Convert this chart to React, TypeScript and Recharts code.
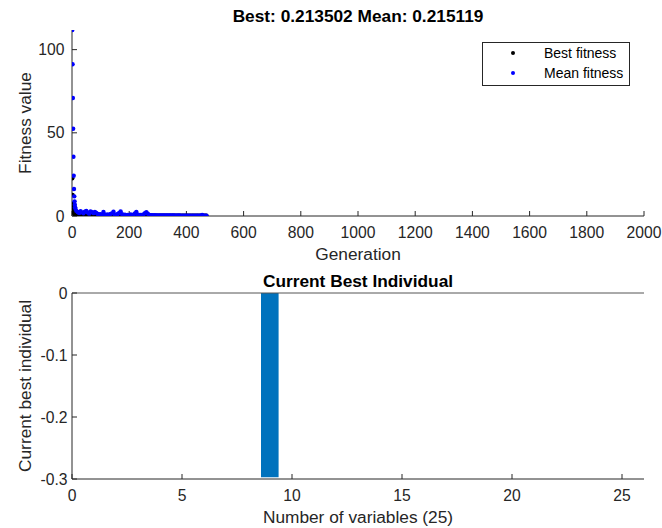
import { ScatterChart, Scatter, XAxis, YAxis, ComposedChart, Bar, ReferenceLine } from 'recharts';

const INK = '#262626';
const FONT = '"Liberation Sans", Arial, Helvetica, sans-serif';

// GA progress: generation numbers (sampled), best and mean fitness per generation
const generation = [
  1, 2, 3, 4, 5, 6, 7, 8, 9, 10, 11, 12,
  15, 20, 25, 30, 35, 40, 45, 50, 55, 60, 65, 70, 75, 80, 85, 90, 95, 100,
  105, 110, 115, 120, 125, 130, 135, 140, 145, 150, 155, 160, 165, 170, 175, 180, 185,
  190, 195, 200, 205, 210, 215, 220, 225, 230, 235, 240, 245, 250, 255, 260, 265, 270,
  275, 280, 285, 290, 295, 300, 305, 310, 315, 320, 325, 330, 335, 340, 345, 350, 355,
  360, 365, 370, 375, 380, 385, 390, 395, 400, 405, 410, 415, 420, 425, 430, 435, 440,
  445, 450, 455, 460, 465, 470,
];

const bestFitness = [
  22.7, 12.6, 7.4, 5.1, 3.7, 2.8, 2.1, 1.7, 1.4, 1.2, 1.1, 1.0,
  0.95, 0.9, 0.86, 0.82, 0.78, 0.74, 0.71, 0.68, 0.65, 0.62, 0.6, 0.58, 0.56, 0.54, 0.52, 0.5, 0.49, 0.48,
  0.47, 0.46, 0.45, 0.44, 0.43, 0.42, 0.41, 0.4, 0.39, 0.38, 0.37, 0.36, 0.35, 0.345, 0.34, 0.335, 0.33,
  0.325, 0.32, 0.315, 0.31, 0.305, 0.3, 0.295, 0.29, 0.285, 0.28, 0.275, 0.27, 0.265, 0.26, 0.255, 0.25, 0.248,
  0.246, 0.244, 0.243, 0.241, 0.24, 0.238, 0.236, 0.235, 0.233, 0.232, 0.231, 0.23, 0.229, 0.228, 0.227, 0.226, 0.225,
  0.224, 0.223, 0.222, 0.222, 0.221, 0.22, 0.22, 0.219, 0.219, 0.218, 0.218, 0.217, 0.217, 0.216, 0.216, 0.215, 0.215,
  0.215, 0.214, 0.214, 0.214, 0.2137, 0.2135,
];

const meanFitness = [
  111.8, 91.2, 70.9, 52.4, 35.6, 24.2, 16.2, 11.8, 8.8, 6.8, 5.2, 4.3,
  3.1, 2.4, 1.8, 2.9, 2.2, 1.6, 2.6, 3.0, 2.1, 1.4, 2.8, 2.3, 1.7, 2.5, 1.9, 1.2, 0.9, 1.1,
  0.8, 2.4, 0.9, 0.6, 1.0, 0.7, 1.3, 1.6, 2.6, 0.9, 0.7, 1.2, 1.9, 2.7, 1.1, 0.6, 0.8,
  0.5, 0.7, 0.6, 0.9, 0.6, 0.8, 1.5, 2.5, 0.9, 0.5, 0.6, 0.7, 1.0, 1.7, 2.3, 1.4, 0.6,
  0.45, 0.41, 0.38, 0.42, 0.36, 0.33, 0.35, 0.31, 0.34, 0.3, 0.29, 0.32, 0.28, 0.3, 0.27, 0.29, 0.26,
  0.28, 0.25, 0.27, 0.26, 0.24, 0.25, 0.24, 0.23, 0.24, 0.23, 0.22, 0.23, 0.22, 0.22, 0.23, 0.22, 0.22,
  0.22, 0.22, 0.6, 0.22, 0.216, 0.215,
];

const generationTicks = [0, 200, 400, 600, 800, 1000, 1200, 1400, 1600, 1800, 2000];
const fitnessTicks = [0, 50, 100];

// current best individual, 25 variables
const variableIndex = [1, 2, 3, 4, 5, 6, 7, 8, 9, 10, 11, 12, 13, 14, 15, 16, 17, 18, 19, 20, 21, 22, 23, 24, 25];
const bestIndividual = [0, 0, 0, 0, 0, 0, 0, 0, -0.297, 0, 0, 0, 0, 0, 0, 0, 0, 0, 0, 0, 0, 0, 0, 0, 0];
const variableTicks = [0, 5, 10, 15, 20, 25];
const individualTicks = [-0.3, -0.2, -0.1, 0];

const tickStyle = { fill: INK, fontSize: 15.7, fontFamily: FONT };

const dot = (color: string) => (props: any) => <circle cx={props.cx} cy={props.cy} r={2.2} fill={color} />;

export default function App() {
  const bestData = generation.map((g, i) => ({ generation: g, fitness: bestFitness[i] }));
  const meanData = generation.map((g, i) => ({ generation: g, fitness: meanFitness[i] }));
  const individualData = variableIndex.map((v, i) => ({ variable: v, value: bestIndividual[i] }));

  return (
    <div style={{ position: 'absolute', left: 0, top: 0, width: 662, height: 528, background: '#fff', fontFamily: FONT }}>
      <div style={{ position: 'absolute', left: 0, top: 0 }}>
        <ScatterChart width={662} height={262} margin={{ top: 30, right: 18, bottom: 0, left: 0 }}>
          <XAxis
            dataKey="generation" type="number" domain={[0, 2000]} ticks={generationTicks}
            height={46} stroke={INK} tickSize={-5} tickMargin={15.5} tick={tickStyle} allowDataOverflow
          />
          <YAxis
            dataKey="fitness" type="number" domain={[0, 111.8]} ticks={fitnessTicks}
            width={72} stroke={INK} tickSize={-5} tickMargin={12.5} tick={tickStyle} allowDataOverflow
          />
          <Scatter name="Best fitness" data={bestData} shape={dot('#000000')} isAnimationActive={false} />
          <Scatter name="Mean fitness" data={meanData} shape={dot('#0000ff')} isAnimationActive={false} />
        </ScatterChart>
      </div>

      <div style={{ position: 'absolute', left: 0, top: 260 }}>
        <ComposedChart width={662} height={268} data={individualData} margin={{ top: 33, right: 18, bottom: 0, left: 0 }}>
          <XAxis
            dataKey="variable" type="number" domain={[0, 26]} ticks={variableTicks}
            height={49} stroke={INK} tickSize={-5} tickMargin={15.5} tick={tickStyle} allowDataOverflow
          />
          <YAxis
            type="number" domain={[-0.3, 0]} ticks={individualTicks}
            width={72} stroke={INK} tickSize={-5} tickMargin={9.5} tick={tickStyle} allowDataOverflow
          />
          <Bar dataKey="value" fill="#0072bd" barSize={17.6} isAnimationActive={false} />
          <ReferenceLine y={0} stroke="#555555" strokeWidth={1} />
        </ComposedChart>
      </div>

      <svg width={662} height={528} style={{ position: 'absolute', left: 0, top: 0, pointerEvents: 'none' }}>
        <g fontFamily={FONT} fill={INK}>
          <text x={358} y={22} textAnchor="middle" fontSize={17.3} fontWeight="bold" fill="#000">
            Best: 0.213502 Mean: 0.215119
          </text>
          <text x={358} y={260} textAnchor="middle" fontSize={17.3}>Generation</text>
          <text transform="translate(31,123) rotate(-90)" textAnchor="middle" fontSize={17.3}>Fitness value</text>

          <text x={358} y={287} textAnchor="middle" fontSize={17.3} fontWeight="bold" fill="#000">
            Current Best Individual
          </text>
          <text x={358} y={522.5} textAnchor="middle" fontSize={17.3}>Number of variables (25)</text>
          <text transform="translate(31,386) rotate(-90)" textAnchor="middle" fontSize={17.3}>Current best individual</text>

          <rect x={482.5} y={42.5} width={147} height={43} fill="#fff" stroke={INK} strokeWidth={1} />
          <circle cx={513} cy={53} r={2} fill="#000000" />
          <circle cx={513} cy={73} r={2} fill="#0000ff" />
          <text x={544} y={58} fontSize={14} fill="#000">Best fitness</text>
          <text x={544} y={78} fontSize={14} fill="#000">Mean fitness</text>
        </g>
      </svg>
    </div>
  );
}
